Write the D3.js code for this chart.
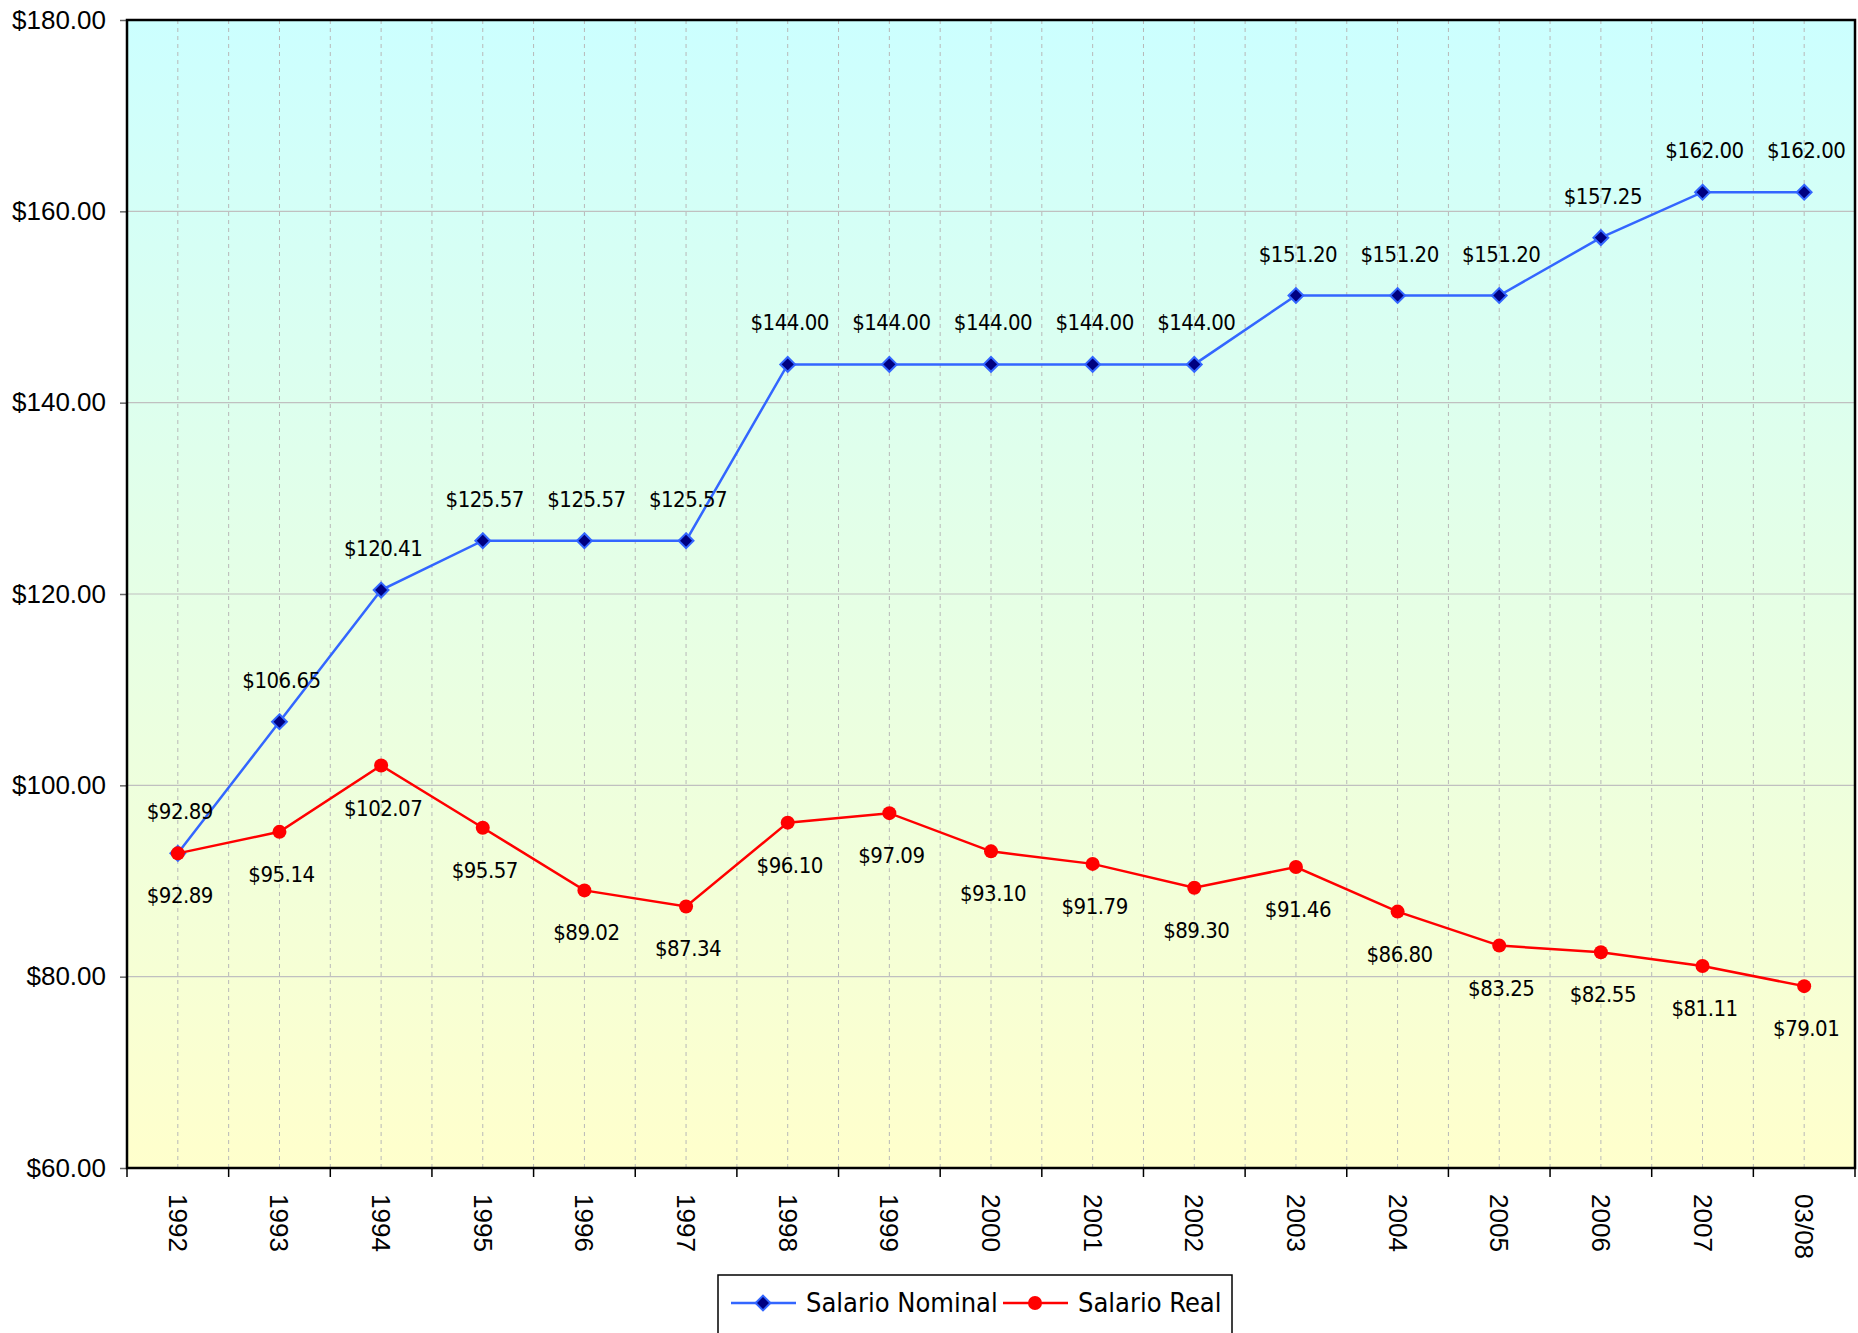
<!DOCTYPE html>
<html>
<head>
<meta charset="utf-8">
<script src="https://cdn.jsdelivr.net/npm/d3@7"></script>
<style>
  body { margin: 0; background: #fff; }
</style>
</head>
<body>
<div id="chart"></div>
<script>
// data
const years = ["1992","1993","1994","1995","1996","1997","1998","1999","2000","2001","2002","2003","2004","2005","2006","2007","03/08"];
const nominal = [92.89,106.65,120.41,125.57,125.57,125.57,144.00,144.00,144.00,144.00,144.00,151.20,151.20,151.20,157.25,162.00,162.00];
const real = [92.89,95.14,102.07,95.57,89.02,87.34,96.10,97.09,93.10,91.79,89.30,91.46,86.80,83.25,82.55,81.11,79.01];
const yTicks = [60,80,100,120,140,160,180];

const width = 1858, height = 1333;
const plotL = 127, plotR = 1855, plotT = 20, plotB = 1168;

const svg = d3.select("#chart").append("svg")
    .attr("width", width)
    .attr("height", height);

// background gradient
const grad = svg.append("defs").append("linearGradient")
    .attr("id", "bg").attr("x1", 0).attr("y1", 0).attr("x2", 0).attr("y2", 1);
grad.append("stop").attr("offset", "0%").attr("stop-color", "#ccffff");
grad.append("stop").attr("offset", "100%").attr("stop-color", "#ffffcc");

svg.append("rect")
    .attr("x", plotL).attr("y", plotT)
    .attr("width", plotR - plotL).attr("height", plotB - plotT)
    .attr("fill", "url(#bg)");

const x = d3.scaleBand().domain(years).range([plotL, plotR]);
const y = d3.scaleLinear().domain([60, 180]).range([plotB, plotT]);
const cx = d => x(d) + x.bandwidth() / 2;

// horizontal grid lines
svg.append("g").selectAll("line")
    .data(yTicks.slice(1, -1))
    .enter().append("line")
    .attr("x1", plotL).attr("x2", plotR)
    .attr("y1", d => y(d)).attr("y2", d => y(d))
    .attr("stroke", "#c0c0c0").attr("stroke-width", 1.2);

// vertical dashed grid lines (centres and boundaries)
const vlines = [];
years.forEach(yr => { vlines.push(x(yr)); vlines.push(cx(yr)); });
svg.append("g").selectAll("line")
    .data(vlines.slice(1))
    .enter().append("line")
    .attr("x1", d => d).attr("x2", d => d)
    .attr("y1", plotT).attr("y2", plotB)
    .attr("stroke", "#b8b8b8").attr("stroke-width", 1)
    .attr("stroke-dasharray", "4,4");

// y axis
const yAxis = svg.append("g")
    .attr("transform", `translate(${plotL},0)`)
    .call(d3.axisLeft(y).tickValues(yTicks).tickSize(7).tickPadding(14)
        .tickFormat(d => "$" + d3.format(".2f")(d)));
yAxis.select(".domain").remove();
yAxis.selectAll("line").attr("stroke", "#666").attr("stroke-width", 1.5);
yAxis.selectAll("text")
    .attr("font-family", "Liberation Sans, Arial, sans-serif")
    .attr("font-size", "26px").attr("fill", "#000");

// x axis ticks at category boundaries
const bounds = years.map(yr => x(yr)).concat([plotR]);
svg.append("g").selectAll("line")
    .data(bounds)
    .enter().append("line")
    .attr("x1", d => d).attr("x2", d => d)
    .attr("y1", plotB).attr("y2", plotB + 9)
    .attr("stroke", "#000").attr("stroke-width", 1.5);

svg.append("g").selectAll("text")
    .data(years)
    .enter().append("text")
    .attr("transform", d => `translate(${cx(d) - 9},${plotB + 26}) rotate(90)`)
    .attr("font-family", "Liberation Sans, Arial, sans-serif")
    .attr("font-size", "26px")
    .attr("text-anchor", "start")
    .text(d => d);

// plot border
svg.append("rect")
    .attr("x", plotL).attr("y", plotT)
    .attr("width", plotR - plotL).attr("height", plotB - plotT)
    .attr("fill", "none").attr("stroke", "#000").attr("stroke-width", 2.5);

const line = d3.line().x((d, i) => cx(years[i])).y(d => y(d));
const fmt = d => "$" + d3.format(".2f")(d);
const labelFont = "DejaVu Sans Condensed, DejaVu Sans, sans-serif";

// Salario Nominal
svg.append("path").datum(nominal)
    .attr("d", line).attr("fill", "none")
    .attr("stroke", "#3366ff").attr("stroke-width", 2.5);
svg.append("g").selectAll("path")
    .data(nominal)
    .enter().append("path")
    .attr("d", d3.symbol().type(d3.symbolDiamond2).size(140))
    .attr("transform", (d, i) => `translate(${cx(years[i])},${y(d)})`)
    .attr("fill", "#000080").attr("stroke", "#3366ff").attr("stroke-width", 2);

// Salario Real
svg.append("path").datum(real)
    .attr("d", line).attr("fill", "none")
    .attr("stroke", "#ff0000").attr("stroke-width", 2.5);
svg.append("g").selectAll("circle")
    .data(real)
    .enter().append("circle")
    .attr("cx", (d, i) => cx(years[i])).attr("cy", d => y(d))
    .attr("r", 7).attr("fill", "#ff0000");

// data labels
svg.append("g").selectAll("text")
    .data(nominal)
    .enter().append("text")
    .attr("x", (d, i) => cx(years[i]) + 2).attr("y", d => y(d) - 34)
    .attr("text-anchor", "middle")
    .attr("font-family", labelFont).attr("font-size", "22px")
    .attr("letter-spacing", "-0.5px")
    .text(fmt);
svg.append("g").selectAll("text")
    .data(real)
    .enter().append("text")
    .attr("x", (d, i) => cx(years[i]) + 2).attr("y", d => y(d) + 50)
    .attr("text-anchor", "middle")
    .attr("font-family", labelFont).attr("font-size", "22px")
    .attr("letter-spacing", "-0.5px")
    .text(fmt);

// legend
const lg = svg.append("g");
lg.append("rect")
    .attr("x", 718).attr("y", 1275).attr("width", 514).attr("height", 70)
    .attr("fill", "#fff").attr("stroke", "#000").attr("stroke-width", 1.5);
const items = [
  {name: "Salario Nominal", color: "#3366ff", x0: 731},
  {name: "Salario Real", color: "#ff0000", x0: 1003}
];
items.forEach((it, k) => {
  const g = lg.append("g").attr("transform", `translate(${it.x0},1303)`);
  g.append("line").attr("x1", 0).attr("x2", 65).attr("y1", 0).attr("y2", 0)
      .attr("stroke", it.color).attr("stroke-width", 2.5);
  if (k === 0) {
    g.append("path").attr("d", d3.symbol().type(d3.symbolDiamond2).size(140))
        .attr("transform", "translate(32,0)")
        .attr("fill", "#000080").attr("stroke", "#3366ff").attr("stroke-width", 2);
  } else {
    g.append("circle").attr("cx", 32).attr("cy", 0).attr("r", 7).attr("fill", "#ff0000");
  }
  g.append("text").attr("x", 75).attr("y", 9)
      .attr("font-family", labelFont).attr("font-size", "27px")
      .text(it.name);
});
</script>
</body>
</html>
